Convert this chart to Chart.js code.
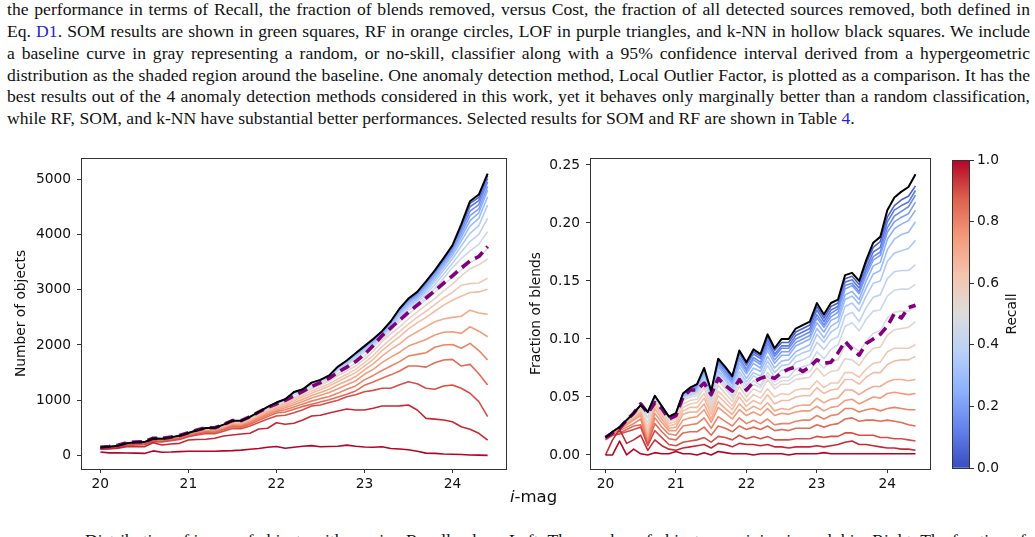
<!DOCTYPE html>
<html>
<head>
<meta charset="utf-8">
<script src="https://cdn.jsdelivr.net/npm/chart.js@4.4.1/dist/chart.umd.min.js"></script>
<style>
  html, body { margin: 0; padding: 0; background: #fff; }
  body { width: 1035px; height: 537px; position: relative; overflow: hidden; }
  .para { position: absolute; left: 7px; top: -22.5px; width: 1023px; font-family: 'Liberation Serif', 'Times New Roman', serif; font-size: 17.6px; line-height: 21.8px; color: #111; }
  .para div { white-space: nowrap; }
  .para a { color: #2323e6; text-decoration: none; }
  .caption { position: absolute; left: 85px; top: 530px; width: 945px; font-family: 'Liberation Serif', serif; font-size: 17.6px; line-height: 21.8px; color: #111; white-space: nowrap; }
  canvas { position: absolute; }
  .lbl { position: absolute; font-family: 'DejaVu Sans', sans-serif; color: #111; white-space: nowrap; }
</style>
</head>
<body>
<div class="para">
  <div class="just"><span>Figure 8. Recall–Cost curves of the SOM, RF, k-NN and LOF methods applied to the blend identification task. The curves quantifying</span></div>
  <div class="just"><span>the performance in terms of Recall, the fraction of blends removed, versus Cost, the fraction of all detected sources removed, both defined in</span></div>
  <div class="just"><span>Eq. <a>D1</a>. SOM results are shown in green squares, RF in orange circles, LOF in purple triangles, and k-NN in hollow black squares. We include</span></div>
  <div class="just"><span>a baseline curve in gray representing a random, or no-skill, classifier along with a 95% confidence interval derived from a hypergeometric</span></div>
  <div class="just"><span>distribution as the shaded region around the baseline. One anomaly detection method, Local Outlier Factor, is plotted as a comparison. It has the</span></div>
  <div class="just"><span>best results out of the 4 anomaly detection methods considered in this work, yet it behaves only marginally better than a random classification,</span></div>
  <div><span>while RF, SOM, and k-NN have substantial better performances. Selected results for SOM and RF are shown in Table <a>4</a>.</span></div>
</div>

<canvas id="countChart" width="515" height="380" style="left:0px;top:150px"></canvas>
<canvas id="fracChart" width="425" height="380" style="left:515px;top:150px"></canvas>
<canvas id="recallBar" width="95" height="340" style="left:940px;top:150px"></canvas>

<div class="lbl" id="xlab" style="left:510px;top:487px;font-size:16.5px"><i>i</i>-mag</div>
<div class="caption">Distribution of i-mag of objects with varying Recall values. Left: The number of objects remaining in each bin. Right: The fraction of</div>

<script>
// i-mag bins
const mags = [20.0, 20.1, 20.2, 20.3, 20.4, 20.5, 20.6, 20.7, 20.8, 20.9,
  21.0, 21.1, 21.2, 21.3, 21.4, 21.5, 21.6, 21.7, 21.8, 21.9,
  22.0, 22.1, 22.2, 22.3, 22.4, 22.5, 22.6, 22.7, 22.8, 22.9,
  23.0, 23.1, 23.2, 23.3, 23.4, 23.5, 23.6, 23.7, 23.8, 23.9,
  24.0, 24.1, 24.2, 24.3, 24.4];
const recallLevels = [0.05, 0.10, 0.15, 0.20, 0.25, 0.30, 0.35, 0.40, 0.45, 0.50,
  0.55, 0.60, 0.65, 0.70, 0.75, 0.80, 0.85, 0.90, 0.95, 1.00];

const magTicks = [20, 21, 22, 23, 24];
const countTicks = [0, 1000, 2000, 3000, 4000, 5000];
const fracTicks = [0, 0.05, 0.10, 0.15, 0.20, 0.25];
const recallTicks = [0, 0.2, 0.4, 0.6, 0.8, 1.0];

// left panel: number of objects
const nTotal = [150,160,180,225,240,245,310,305,330,360,410,460,500,500,560,630,630,700,790,880,960,1020,1150,1200,1320,1370,1450,1610,1720,1850,1980,2110,2250,2430,2660,2840,2960,3150,3350,3570,3800,4180,4600,4720,5100];
const nDashed = [152,165,188,232,247,250,314,308,334,364,412,465,505,503,562,632,633,702,788,870,935,1000,1080,1160,1250,1320,1400,1510,1600,1700,1830,1990,2170,2310,2450,2590,2720,2850,2980,3120,3250,3390,3520,3600,3780];
const nR05 = [150,160,180,224,239,244,309,304,329,359,409,459,498,498,558,628,628,698,788,877,957,1017,1147,1197,1317,1367,1446,1606,1716,1845,1975,2104,2243,2422,2651,2830,2950,3140,3340,3560,3790,4160,4560,4670,5060];
const nR10 = [150,160,179,223,238,243,308,303,328,358,407,457,496,496,556,626,625,695,785,874,954,1014,1144,1193,1313,1363,1442,1600,1709,1837,1965,2094,2233,2412,2641,2820,2938,3126,3324,3542,3770,4120,4500,4610,5010];
const nR15 = [149,159,179,222,237,242,307,302,326,356,405,455,494,494,553,623,622,692,781,870,950,1010,1139,1189,1308,1358,1436,1593,1700,1828,1955,2082,2219,2396,2623,2800,2916,3102,3298,3514,3740,4070,4420,4540,4950];
const nR20 = [149,159,178,221,236,241,305,300,325,354,403,452,491,491,550,619,619,688,777,866,945,1005,1135,1184,1304,1353,1430,1586,1692,1819,1945,2070,2205,2380,2605,2780,2894,3078,3272,3486,3710,4010,4340,4460,4870];
const nR25 = [149,158,178,220,235,240,304,299,323,352,401,450,488,488,547,616,615,684,772,861,940,1000,1130,1179,1299,1348,1424,1579,1684,1810,1935,2058,2191,2364,2587,2760,2870,3050,3240,3450,3670,3950,4250,4390,4800];
const nR30 = [148,158,177,219,234,239,302,297,321,350,398,447,485,485,543,612,611,680,767,855,934,994,1124,1173,1293,1342,1417,1571,1675,1798,1920,2040,2170,2340,2560,2730,2836,3012,3198,3404,3620,3880,4150,4290,4680];
const nR35 = [148,157,176,218,233,238,300,295,319,348,396,444,482,482,540,608,607,675,762,849,928,988,1117,1167,1286,1335,1408,1560,1662,1784,1905,2022,2149,2316,2533,2700,2800,2970,3150,3350,3560,3790,4020,4160,4530];
const nR40 = [148,157,176,217,232,237,299,294,317,346,393,441,478,478,536,604,603,670,757,843,922,982,1111,1160,1279,1328,1398,1548,1648,1767,1885,2000,2125,2290,2505,2670,2760,2920,3090,3280,3480,3680,3870,4000,4290];
const nR45 = [147,156,175,216,230,235,297,292,315,343,390,437,474,474,531,599,598,665,751,836,915,975,1104,1153,1272,1320,1387,1534,1631,1748,1865,1976,2097,2258,2469,2630,2712,2864,3026,3208,3400,3560,3700,3820,4050];
const nR50 = [146,155,174,214,228,233,294,289,312,340,386,433,469,469,526,593,592,658,744,828,906,965,1060,1130,1230,1300,1375,1485,1575,1675,1800,1955,2130,2280,2420,2560,2690,2820,2950,3090,3220,3360,3490,3570,3750];
const nR55 = [145,154,173,216,231,235,297,292,316,345,392,440,478,478,535,601,601,667,752,837,912,955,1035,1125,1210,1270,1350,1450,1530,1620,1740,1890,2060,2200,2330,2470,2600,2720,2840,2980,3100,3250,3380,3450,3555];
const nR60 = [143,152,171,214,228,232,294,289,312,340,387,433,470,469,525,590,589,653,736,818,893,950,1020,1090,1170,1230,1300,1390,1470,1560,1680,1810,1970,2110,2240,2380,2500,2610,2730,2850,2950,3080,3110,3120,3206];
const nR65 = [141,150,169,211,225,229,290,285,308,335,383,428,464,463,518,581,579,642,722,802,874,925,990,1060,1130,1190,1260,1340,1420,1500,1620,1740,1900,2030,2150,2290,2400,2500,2610,2720,2810,2880,2950,2960,3007];
const nR70 = [140,148,166,208,221,225,285,279,301,328,377,420,455,453,506,567,565,626,703,780,850,895,955,1020,1085,1140,1200,1280,1350,1430,1550,1660,1800,1920,2020,2150,2240,2330,2420,2470,2500,2520,2630,2580,2555];
const nR75 = [137,146,163,204,217,221,279,274,296,322,371,412,446,443,494,553,550,608,683,757,826,865,920,980,1040,1090,1140,1210,1280,1350,1470,1560,1680,1780,1870,1980,2040,2100,2180,2230,2240,2210,2330,2250,2150];
const nR80 = [134,142,160,199,212,216,272,267,288,313,363,403,435,431,481,538,534,590,662,734,800,830,880,935,985,1030,1070,1130,1200,1260,1370,1450,1540,1620,1700,1800,1830,1860,1960,2000,2010,1940,2030,1900,1729];
const nR85 = [129,137,154,192,205,209,264,259,281,307,353,393,423,418,466,520,515,568,637,705,770,790,840,890,930,970,1010,1060,1110,1170,1270,1330,1400,1460,1530,1620,1620,1600,1680,1730,1740,1620,1650,1480,1277];
const nR90 = [120,128,144,180,192,196,250,247,268,293,340,375,400,395,440,490,485,535,600,660,716,730,776,830,897,915,960,1000,1065,1100,1156,1180,1217,1217,1280,1336,1300,1217,1199,1260,1277,1217,1127,975,704];
const nR95 = [114,120,135,161,165,161,233,192,210,222,282,290,295,313,354,372,390,403,481,494,595,566,584,644,716,729,770,807,843,825,825,855,897,897,900,915,825,674,660,644,613,523,475,403,282];
const nR100 = [65,50,52,48,45,40,85,62,65,72,78,80,78,80,85,90,100,115,130,150,165,132,150,170,180,160,165,168,190,170,155,150,160,130,120,105,80,45,40,30,25,20,12,8,5];

// right panel: fraction of blends
const fTotal = [0.015,0.020,0.024,0.030,0.036,0.043,0.037,0.051,0.042,0.033,0.036,0.053,0.058,0.061,0.075,0.055,0.083,0.076,0.068,0.090,0.080,0.091,0.087,0.104,0.092,0.100,0.100,0.109,0.112,0.115,0.131,0.121,0.131,0.134,0.155,0.157,0.150,0.168,0.183,0.188,0.211,0.222,0.227,0.231,0.242];
const fDashed = [0.015,0.019,0.023,0.030,0.036,0.044,0.036,0.045,0.040,0.031,0.034,0.050,0.056,0.056,0.062,0.052,0.066,0.060,0.055,0.065,0.056,0.063,0.066,0.068,0.066,0.071,0.074,0.076,0.072,0.076,0.082,0.079,0.080,0.088,0.098,0.091,0.086,0.096,0.100,0.104,0.111,0.122,0.118,0.127,0.129];
const fR05 = [0.015,0.020,0.024,0.030,0.036,0.043,0.037,0.051,0.042,0.033,0.036,0.053,0.058,0.061,0.074,0.055,0.082,0.075,0.067,0.089,0.078,0.089,0.085,0.102,0.090,0.097,0.097,0.106,0.109,0.112,0.128,0.118,0.128,0.131,0.152,0.154,0.147,0.165,0.179,0.184,0.205,0.215,0.220,0.223,0.232];
const fR10 = [0.015,0.020,0.024,0.030,0.036,0.043,0.037,0.051,0.042,0.033,0.036,0.052,0.057,0.060,0.073,0.054,0.081,0.074,0.066,0.087,0.077,0.087,0.083,0.099,0.087,0.094,0.094,0.103,0.106,0.109,0.125,0.115,0.125,0.128,0.149,0.151,0.144,0.161,0.175,0.179,0.201,0.211,0.215,0.218,0.228];
const fR15 = [0.015,0.020,0.024,0.030,0.036,0.043,0.037,0.050,0.041,0.032,0.035,0.052,0.056,0.059,0.072,0.053,0.079,0.072,0.064,0.084,0.074,0.084,0.080,0.096,0.085,0.092,0.092,0.100,0.103,0.106,0.121,0.112,0.122,0.126,0.146,0.148,0.141,0.158,0.171,0.175,0.196,0.206,0.210,0.214,0.224];
const fR20 = [0.015,0.020,0.024,0.030,0.036,0.042,0.036,0.050,0.041,0.032,0.035,0.051,0.056,0.058,0.071,0.052,0.077,0.070,0.062,0.082,0.072,0.082,0.078,0.093,0.082,0.089,0.089,0.097,0.100,0.103,0.118,0.110,0.119,0.123,0.143,0.146,0.139,0.155,0.168,0.172,0.192,0.201,0.205,0.208,0.218];
const fR25 = [0.015,0.020,0.024,0.030,0.036,0.042,0.036,0.050,0.041,0.032,0.035,0.051,0.055,0.057,0.070,0.051,0.076,0.068,0.061,0.079,0.070,0.079,0.075,0.090,0.079,0.086,0.086,0.094,0.097,0.100,0.114,0.106,0.116,0.119,0.138,0.141,0.134,0.150,0.163,0.166,0.186,0.195,0.199,0.202,0.211];
const fR30 = [0.015,0.020,0.024,0.030,0.035,0.042,0.036,0.050,0.041,0.032,0.035,0.050,0.054,0.056,0.068,0.049,0.073,0.066,0.058,0.076,0.066,0.075,0.072,0.085,0.075,0.081,0.082,0.089,0.092,0.095,0.109,0.101,0.111,0.115,0.134,0.137,0.130,0.144,0.156,0.159,0.177,0.186,0.190,0.192,0.201];
const fR35 = [0.015,0.020,0.024,0.030,0.035,0.042,0.036,0.049,0.040,0.031,0.034,0.049,0.053,0.055,0.066,0.048,0.071,0.064,0.056,0.072,0.063,0.071,0.068,0.081,0.071,0.077,0.078,0.085,0.088,0.090,0.104,0.097,0.106,0.110,0.128,0.131,0.124,0.137,0.148,0.150,0.167,0.174,0.176,0.178,0.185];
const fR40 = [0.015,0.020,0.024,0.029,0.035,0.042,0.036,0.049,0.040,0.031,0.034,0.049,0.052,0.054,0.065,0.047,0.069,0.061,0.054,0.069,0.060,0.068,0.065,0.077,0.067,0.073,0.073,0.080,0.082,0.085,0.097,0.091,0.099,0.102,0.120,0.123,0.115,0.127,0.136,0.138,0.152,0.158,0.159,0.159,0.164];
const fR45 = [0.015,0.020,0.024,0.029,0.035,0.042,0.032,0.049,0.040,0.031,0.034,0.048,0.051,0.053,0.063,0.045,0.066,0.059,0.051,0.066,0.057,0.064,0.060,0.071,0.063,0.067,0.067,0.074,0.076,0.078,0.089,0.083,0.091,0.095,0.111,0.114,0.107,0.117,0.124,0.125,0.137,0.142,0.143,0.143,0.147];
const fR50 = [0.015,0.020,0.024,0.029,0.035,0.041,0.028,0.047,0.039,0.030,0.032,0.047,0.050,0.051,0.061,0.044,0.064,0.057,0.049,0.063,0.054,0.061,0.058,0.068,0.060,0.064,0.064,0.069,0.070,0.072,0.081,0.075,0.080,0.082,0.094,0.094,0.089,0.098,0.105,0.107,0.118,0.123,0.124,0.124,0.128];
const fR55 = [0.015,0.020,0.023,0.029,0.034,0.040,0.024,0.046,0.037,0.029,0.031,0.044,0.047,0.048,0.058,0.041,0.060,0.053,0.046,0.059,0.050,0.057,0.054,0.065,0.057,0.061,0.061,0.065,0.066,0.067,0.075,0.068,0.072,0.073,0.083,0.082,0.077,0.086,0.092,0.093,0.103,0.108,0.109,0.110,0.115];
const fR60 = [0.015,0.020,0.023,0.028,0.033,0.039,0.020,0.044,0.036,0.027,0.029,0.041,0.044,0.045,0.053,0.038,0.055,0.049,0.042,0.054,0.046,0.052,0.049,0.057,0.050,0.053,0.052,0.056,0.057,0.057,0.064,0.058,0.062,0.062,0.071,0.071,0.067,0.074,0.079,0.080,0.089,0.092,0.092,0.092,0.095];
const fR65 = [0.015,0.020,0.023,0.028,0.032,0.037,0.017,0.043,0.034,0.025,0.027,0.038,0.041,0.041,0.049,0.035,0.051,0.045,0.039,0.050,0.042,0.047,0.044,0.052,0.044,0.047,0.047,0.050,0.051,0.051,0.058,0.053,0.056,0.057,0.065,0.065,0.061,0.067,0.071,0.071,0.078,0.081,0.082,0.082,0.085];
const fR70 = [0.015,0.019,0.022,0.027,0.031,0.036,0.014,0.040,0.031,0.023,0.024,0.035,0.037,0.037,0.044,0.031,0.046,0.040,0.035,0.044,0.038,0.042,0.039,0.045,0.038,0.040,0.039,0.042,0.043,0.043,0.049,0.045,0.048,0.049,0.056,0.056,0.052,0.056,0.059,0.059,0.063,0.065,0.065,0.064,0.065];
const fR75 = [0.015,0.019,0.022,0.026,0.030,0.034,0.012,0.036,0.028,0.021,0.021,0.030,0.032,0.033,0.039,0.028,0.041,0.036,0.031,0.039,0.034,0.037,0.034,0.040,0.034,0.036,0.035,0.037,0.038,0.038,0.042,0.038,0.041,0.042,0.047,0.048,0.044,0.047,0.050,0.049,0.053,0.054,0.053,0.052,0.053];
const fR80 = [0.014,0.018,0.021,0.024,0.027,0.031,0.010,0.032,0.024,0.018,0.017,0.025,0.026,0.027,0.032,0.023,0.033,0.029,0.025,0.032,0.027,0.030,0.027,0.031,0.026,0.027,0.027,0.029,0.030,0.030,0.034,0.031,0.034,0.035,0.040,0.040,0.037,0.039,0.040,0.038,0.040,0.041,0.040,0.039,0.039];
const fR85 = [0.014,0.017,0.019,0.022,0.025,0.026,0.009,0.027,0.020,0.014,0.013,0.019,0.020,0.020,0.024,0.017,0.025,0.023,0.020,0.025,0.022,0.024,0.022,0.025,0.021,0.022,0.021,0.023,0.023,0.023,0.026,0.024,0.026,0.027,0.031,0.032,0.029,0.030,0.030,0.029,0.030,0.029,0.028,0.026,0.025];
const fR90 = [0.013,0.017,0.018,0.020,0.022,0.024,0.008,0.021,0.015,0.009,0.008,0.011,0.012,0.013,0.015,0.011,0.016,0.015,0.013,0.017,0.014,0.016,0.014,0.016,0.013,0.013,0.013,0.014,0.014,0.014,0.016,0.015,0.016,0.016,0.019,0.019,0.017,0.017,0.017,0.015,0.015,0.014,0.014,0.013,0.012];
const fR95 = [0.000,0.013,0.022,0.010,0.013,0.017,0.004,0.013,0.008,0.005,0.004,0.006,0.007,0.008,0.009,0.006,0.010,0.009,0.007,0.010,0.009,0.009,0.008,0.009,0.007,0.007,0.006,0.007,0.007,0.007,0.008,0.007,0.008,0.009,0.011,0.012,0.009,0.009,0.008,0.007,0.006,0.006,0.005,0.005,0.004];
const fR100 = [0.000,0.000,0.012,0.000,0.005,0.001,0.000,0.002,0.001,0.001,0.003,0.001,0.001,0.000,0.002,0.000,0.003,0.002,0.001,0.001,0.001,0.000,0.001,0.001,0.001,0.001,0.000,0.001,0.001,0.001,0.001,0.002,0.001,0.001,0.001,0.001,0.001,0.001,0.001,0.001,0.001,0.001,0.001,0.001,0.001];

const nByRecall = [nR05, nR10, nR15, nR20, nR25, nR30, nR35, nR40, nR45, nR50, nR55, nR60, nR65, nR70, nR75, nR80, nR85, nR90, nR95, nR100];
const fByRecall = [fR05, fR10, fR15, fR20, fR25, fR30, fR35, fR40, fR45, fR50, fR55, fR60, fR65, fR70, fR75, fR80, fR85, fR90, fR95, fR100];

// justify the paragraph lines like the pdf
document.querySelectorAll('.just').forEach(el => {
  const span = el.firstElementChild;
  const w = span.getBoundingClientRect().width;
  const spaces = (span.textContent.match(/ /g) || []).length;
  span.style.wordSpacing = ((1023 - w) / spaces) + 'px';
});

// coolwarm colormap
const coolwarmStops = [
  [0.0, [58, 76, 192]], [0.125, [98, 130, 234]], [0.25, [141, 176, 254]],
  [0.375, [184, 208, 249]], [0.5, [221, 220, 220]], [0.625, [245, 196, 173]],
  [0.75, [244, 154, 123]], [0.875, [222, 96, 77]], [1.0, [180, 4, 38]]
];
const coolwarm = function (t) {
  for (let i = 1; i < coolwarmStops.length; i++) {
    const [t1, c1] = coolwarmStops[i];
    const [t0, c0] = coolwarmStops[i - 1];
    if (t <= t1) {
      const f = (t - t0) / (t1 - t0);
      const c = c0.map((v, j) => Math.round(v + (c1[j] - v) * f));
      return `rgb(${c[0]}, ${c[1]}, ${c[2]})`;
    }
  }
  return 'rgb(180, 4, 38)';
};

Chart.defaults.font.family = "'DejaVu Sans', sans-serif";
Chart.defaults.font.size = 13.8;
Chart.defaults.color = '#111';

const toXY = ys => mags.map((m, i) => ({ x: m, y: ys[i] }));

const lineSets = function (total, dashed, byRecall) {
  const sets = [
    { label: 'All objects', data: toXY(total), borderColor: '#000', borderWidth: 2, order: 0 },
    { label: 'Dashed', data: toXY(dashed), borderColor: '#800080', borderWidth: 3.6, borderDash: [10, 6], order: 1 }
  ];
  byRecall.forEach((ys, k) => {
    sets.push({
      label: 'Recall ' + recallLevels[k].toFixed(2),
      data: toXY(ys),
      borderColor: coolwarm(recallLevels[k]),
      borderWidth: 1.6,
      order: 2 + (byRecall.length - 1 - k)
    });
  });
  return sets;
};

const framePlugin = {
  id: 'frame',
  afterDatasetsDraw(chart) {
    const { ctx, chartArea: a } = chart;
    ctx.save();
    ctx.strokeStyle = '#333';
    ctx.lineWidth = 1;
    ctx.strokeRect(Math.round(a.left) + 0.5, Math.round(a.top) + 0.5, Math.round(a.right - a.left) - 1, Math.round(a.bottom - a.top));
    ctx.restore();
  }
};

// colorbar label, rotated like matplotlib (reads bottom to top)
const recallLabelPlugin = {
  id: 'recallLabel',
  afterDraw(chart) {
    const { ctx, chartArea: a } = chart;
    ctx.save();
    ctx.translate(a.right + 42, (a.top + a.bottom) / 2);
    ctx.rotate(-Math.PI / 2);
    ctx.fillStyle = '#111';
    ctx.font = "13.8px 'DejaVu Sans', sans-serif";
    ctx.textAlign = 'center';
    ctx.textBaseline = 'middle';
    ctx.fillText('Recall', 0, 0);
    ctx.restore();
  }
};

const tickGrid = { drawOnChartArea: false, drawTicks: true, tickLength: 4, color: '#333' };

// fixed axis boxes so the plot areas land where the reference has them
const fixBox = (w, h) => s => {
  if (w !== null) s.width = w;
  if (h !== null) s.height = h;
  s.paddingTop = 0; s.paddingBottom = 0; s.paddingLeft = 0; s.paddingRight = 0;
};

const lineOptions = function (yMin, yMax, yTicks, yWidth, yTitle, yFmt, padRight) {
  return {
    responsive: false,
    animation: false,
    events: [],
    layout: { autoPadding: false, padding: { top: 8, right: padRight, left: 0, bottom: 0 } },
    elements: {
      point: { radius: 0 },
      line: { tension: 0, borderJoinStyle: 'round', fill: false }
    },
    plugins: { legend: { display: false }, tooltip: { enabled: false } },
    scales: {
      x: {
        type: 'linear', min: 19.78, max: 24.62,
        afterBuildTicks: s => { s.ticks = magTicks.map(v => ({ value: v })); },
        afterFit: fixBox(null, 61),
        grid: tickGrid,
        border: { display: false },
        ticks: { padding: 3, callback: v => String(v) }
      },
      y: {
        type: 'linear', min: yMin, max: yMax,
        afterBuildTicks: s => { s.ticks = yTicks.map(v => ({ value: v })); },
        afterFit: fixBox(yWidth, null),
        grid: tickGrid,
        border: { display: false },
        title: { display: true, text: yTitle, padding: { top: 13.5, bottom: 0 } },
        ticks: { padding: 6, callback: yFmt }
      }
    }
  };
};

new Chart(document.getElementById('countChart'), {
  type: 'line',
  data: { datasets: lineSets(nTotal, nDashed, nByRecall) },
  options: lineOptions(-242, 5381, countTicks, 81, 'Number of objects', v => String(v), 8),
  plugins: [framePlugin]
});

new Chart(document.getElementById('fracChart'), {
  type: 'line',
  data: { datasets: lineSets(fTotal, fDashed, fByRecall) },
  options: lineOptions(-0.0121, 0.256, fracTicks, 75, 'Fraction of blends', v => v.toFixed(2), 9),
  plugins: [framePlugin]
});

// colour bar for Recall
new Chart(document.getElementById('recallBar'), {
  type: 'bar',
  data: {
    labels: ['Recall'],
    datasets: [{
      data: [1],
      borderWidth: 0,
      barPercentage: 1,
      categoryPercentage: 1,
      backgroundColor: function (context) {
        const { ctx, chartArea } = context.chart;
        if (!chartArea) return null;
        const g = ctx.createLinearGradient(0, chartArea.bottom, 0, chartArea.top);
        coolwarmStops.forEach(([t, c]) => g.addColorStop(t, `rgb(${c[0]}, ${c[1]}, ${c[2]})`));
        return g;
      }
    }]
  },
  options: {
    responsive: false,
    animation: false,
    events: [],
    layout: { autoPadding: false, padding: { top: 10, right: 0, left: 12, bottom: 22 } },
    plugins: { legend: { display: false }, tooltip: { enabled: false } },
    scales: {
      x: { display: false },
      y: {
        position: 'right', min: 0, max: 1,
        afterBuildTicks: s => { s.ticks = recallTicks.map(v => ({ value: v })); },
        afterFit: fixBox(65, null),
        grid: tickGrid,
        border: { display: false },
        ticks: { padding: 3, callback: v => v.toFixed(1) }
      }
    }
  },
  plugins: [framePlugin, recallLabelPlugin]
});
</script>
</body>
</html>
